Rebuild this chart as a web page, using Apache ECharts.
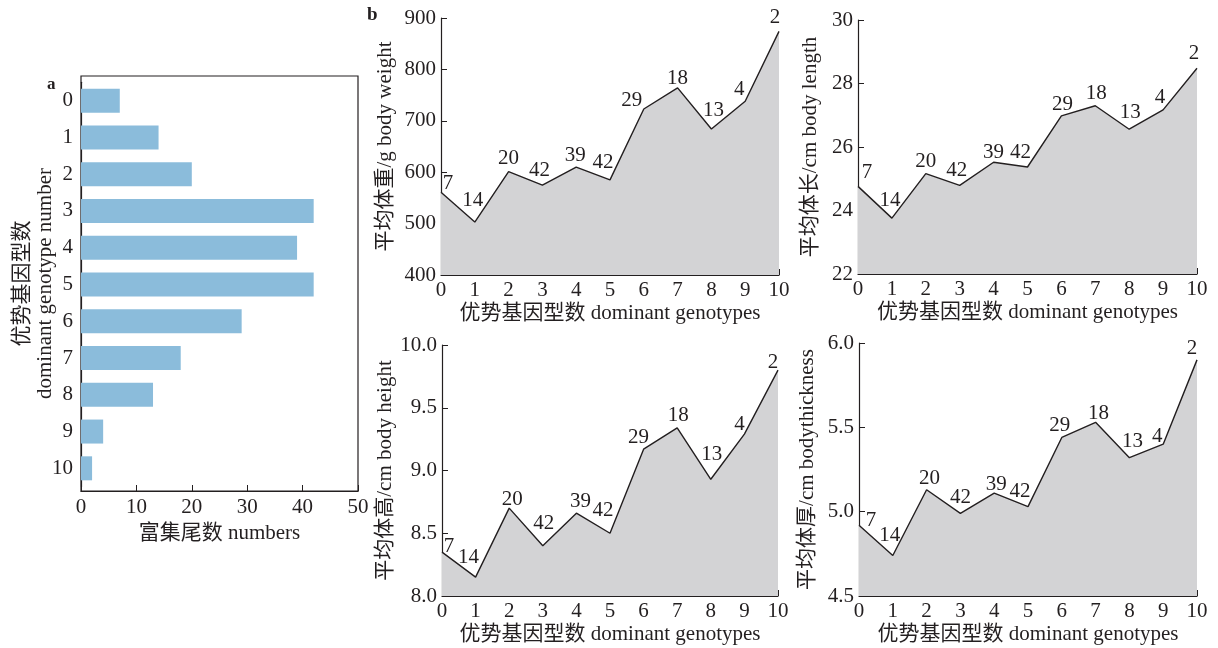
<!DOCTYPE html>
<html><head><meta charset="utf-8">
<script src="https://cdn.jsdelivr.net/npm/echarts@6/dist/echarts.min.js"></script>
<style>html,body{margin:0;padding:0;background:#fff}#c{width:1218px;height:648px}</style>
</head><body><div id="c"></div>
<script>
// ---- data ----
var genotypes = ['0','1','2','3','4','5','6','7','8','9','10'];
var counts = [7, 14, 20, 42, 39, 42, 29, 18, 13, 4, 2];
var bodyWeight = [561, 503, 601, 575, 610, 585, 723, 764, 684, 738, 874];
var bodyLength = [24.76, 23.76, 25.16, 24.79, 25.52, 25.37, 26.98, 27.30, 26.56, 27.17, 28.48];
var bodyHeight = [8.35, 8.15, 8.70, 8.40, 8.66, 8.50, 9.17, 9.34, 8.93, 9.29, 9.80];
var bodyThickness = [4.92, 4.74, 5.13, 4.99, 5.11, 5.03, 5.44, 5.53, 5.32, 5.40, 5.90];

// ---- label placement (style config: pixel nudges of count labels relative to each point) ----
var NUDGE_W = [[7,-9],[-2,-22],[0,-13],[-3,-15],[-1,-12],[-7,-17],[-12,-8],[0,-9],[2,-19],[-6,-12],[-4,-14]];
var NUDGE_L = [[9,-14],[-2,-18],[0,-12],[-3,-15],[0,-10],[-7,-15],[1,-11],[1,-12],[1,-17],[-3,-12],[-3,-15]];
var NUDGE_H = [[7,-6],[-7,-20],[3,-9],[1,-22],[4,-12],[-7,-23],[-5,-12],[1,-12],[1,-25],[-5,-10],[-5,-8]];
var NUDGE_T = [[12,-5],[-3,-20],[3,-11],[0,-16],[2,-9],[-8,-15],[-2,-12],[3,-9],[3,-16],[-6,-8],[-5,-11]];

var FONT = 'Liberation Serif, "Noto Sans CJK SC", serif';
var INK = '#231f20';
var FS = 21;
var chart = echarts.init(document.getElementById('c'), null, {renderer: 'canvas'});

function lineAxisX(gi) {
  return {
    type: 'category', gridIndex: gi, data: genotypes, boundaryGap: false,
    name: '优势基因型数 dominant genotypes', nameLocation: 'middle', nameGap: 28,
    nameTextStyle: {fontFamily: FONT, fontSize: FS, color: INK},
    axisLine: {lineStyle: {color: INK, width: 1.2}},
    axisTick: {inside: true, length: 6, alignWithLabel: true, lineStyle: {color: INK}},
    axisLabel: {fontFamily: FONT, fontSize: FS, color: INK, margin: 5, interval: 0},
    splitLine: {show: false}
  };
}
function lineAxisY(gi, name, min, max, interval, gap, dec) {
  return {
    type: 'value', gridIndex: gi, min: min, max: max, interval: interval,
    name: name, nameLocation: 'middle', nameGap: gap, nameRotate: 90,
    nameTextStyle: {fontFamily: FONT, fontSize: FS, color: INK},
    axisLine: {show: true, lineStyle: {color: INK, width: 1.2}},
    axisTick: {show: true, inside: true, length: 6, lineStyle: {color: INK}},
    axisLabel: {fontFamily: FONT, fontSize: FS, color: INK, margin: 5,
      formatter: function (v) { return dec ? v.toFixed(dec) : String(v); }},
    splitLine: {show: false}
  };
}
function areaSeries(gi, values, nudge) {
  var d = values.map(function (v, i) {
    return {value: v, label: {position: [nudge[i][0] + 1, nudge[i][1] + 1]}};
  });
  return {
    type: 'line', xAxisIndex: gi, yAxisIndex: gi, data: d,
    symbol: 'rect', symbolSize: 2, showSymbol: true, showAllSymbol: true, smooth: false,
    itemStyle: {color: 'rgba(0,0,0,0)', borderWidth: 0},
    lineStyle: {color: INK, width: 1.4},
    areaStyle: {color: '#d3d3d5', opacity: 1, origin: 'start'},
    label: {show: true, align: 'center', verticalAlign: 'middle',
      fontFamily: FONT, fontSize: FS, color: INK,
      formatter: function (p) { return String(counts[p.dataIndex]); }},
    labelLayout: {hideOverlap: false},
    z: 2
  };
}

var option = {
  animation: false,
  backgroundColor: '#ffffff',
  grid: [
    {left: 81, top: 76, width: 277, height: 415, show: true, borderColor: INK, borderWidth: 1.2, backgroundColor: 'transparent'},
    {left: 441, top: 18, width: 338, height: 257},
    {left: 858, top: 20, width: 339, height: 254},
    {left: 442, top: 345, width: 336, height: 251},
    {left: 859, top: 343, width: 338, height: 253},
    {left: 81, top: 82.3, width: 277, height: 404.4}
  ],
  xAxis: [
    {type: 'value', gridIndex: 0, min: 0, max: 50, interval: 10,
     name: '富集尾数 numbers', nameLocation: 'middle', nameGap: 31,
     nameTextStyle: {fontFamily: FONT, fontSize: FS, color: INK},
     axisLine: {show: true, lineStyle: {color: INK, width: 1.2}},
     axisTick: {show: true, inside: true, length: 6, lineStyle: {color: INK}},
     axisLabel: {fontFamily: FONT, fontSize: FS, color: INK, margin: 6},
     splitLine: {show: false}},
    lineAxisX(1), lineAxisX(2), lineAxisX(3), lineAxisX(4),
    {type: 'value', gridIndex: 5, min: 0, max: 50, show: false}
  ],
  yAxis: [
    {type: 'value', gridIndex: 0, show: true, min: 0, max: 1,
     axisLine: {show: false}, axisTick: {show: false}, axisLabel: {show: false}, splitLine: {show: false},
     name: '优势基因型数\ndominant genotype number', nameLocation: 'middle', nameGap: 24, nameRotate: 90,
     nameTextStyle: {fontFamily: FONT, fontSize: FS, color: INK, lineHeight: 23}},
    lineAxisY(1, '平均体重/g body weight', 400, 900, 100, 45, 0),
    lineAxisY(2, '平均体长/cm body length', 22, 30, 2, 37, 0),
    lineAxisY(3, '平均体高/cm body height', 8, 10, 0.5, 44, 1),
    lineAxisY(4, '平均体厚/cm bodythickness', 4.5, 6, 0.5, 41, 1),
    {type: 'category', gridIndex: 5, data: genotypes, inverse: true,
     axisLine: {show: true, lineStyle: {color: INK, width: 1.2}},
     axisTick: {show: true, inside: true, length: 6, alignWithLabel: true, lineStyle: {color: INK}},
     axisLabel: {fontFamily: FONT, fontSize: FS, color: INK, margin: 8},
     splitLine: {show: false}}
  ],
  series: [
    {type: 'bar', xAxisIndex: 5, yAxisIndex: 5, data: counts, barWidth: 24,
     itemStyle: {color: '#8bbcdb'}},
    areaSeries(1, bodyWeight, NUDGE_W),
    areaSeries(2, bodyLength, NUDGE_L),
    areaSeries(3, bodyHeight, NUDGE_H),
    areaSeries(4, bodyThickness, NUDGE_T)
  ],
  graphic: [
    {type: 'text', left: 47, top: 76, style: {text: 'a', font: 'bold 17px ' + FONT, fill: INK}},
    {type: 'text', left: 367, top: 6, style: {text: 'b', font: 'bold 19px ' + FONT, fill: INK}}
  ]
};
chart.setOption(option);
</script>
</body></html>
